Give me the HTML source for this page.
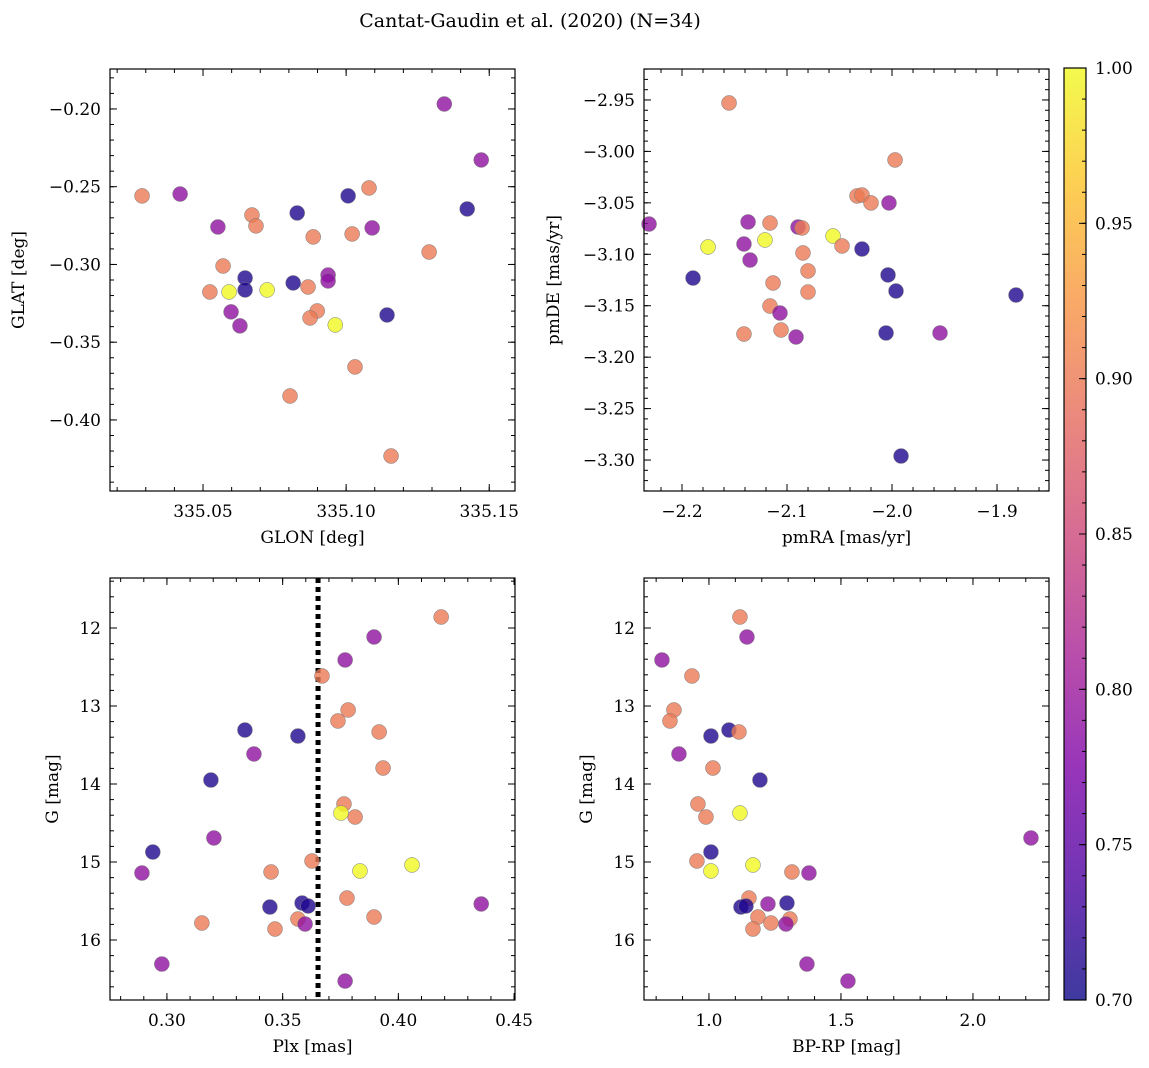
<!DOCTYPE html>
<html><head><meta charset="utf-8"><style>
html,body{margin:0;padding:0;background:#fff;}
svg{display:block;font-family:"DejaVu Serif","Liberation Serif",serif;}
</style></head><body>
<svg id="fig" width="1149" height="1068" viewBox="0 0 1149 1068" xmlns="http://www.w3.org/2000/svg">
<defs>
<linearGradient id="plasma" x1="0" y1="1" x2="0" y2="0">
<stop offset="0" stop-color="#0d0887"/><stop offset="0.125" stop-color="#4c02a1"/>
<stop offset="0.25" stop-color="#7e03a8"/><stop offset="0.375" stop-color="#a92395"/>
<stop offset="0.5" stop-color="#cc4778"/><stop offset="0.625" stop-color="#e56b5d"/>
<stop offset="0.75" stop-color="#f89441"/><stop offset="0.875" stop-color="#fdc328"/>
<stop offset="1" stop-color="#f0f921"/></linearGradient>
</defs>
<text x="530" y="27" font-size="19" text-anchor="middle">Cantat-Gaudin et al. (2020) (N=34)</text>
</svg>
<script>
// ---- data ----
const glon = [335.0287,335.0420,335.0552,335.0671,335.0685,335.0570,335.0524,335.0591,335.0647,335.0647,335.0724,335.0598,335.0629,335.0829,335.0815,335.0804,335.0885,335.0867,335.0899,335.0874,335.0937,335.0937,335.0962,335.1007,335.1021,335.1031,335.1080,335.1091,335.1143,335.1157,335.1290,335.1343,335.1423,335.1472];
const glat = [-0.2559,-0.2547,-0.2759,-0.2682,-0.2752,-0.3010,-0.3177,-0.3177,-0.3087,-0.3164,-0.3164,-0.3305,-0.3395,-0.2669,-0.3119,-0.3846,-0.2823,-0.3145,-0.3299,-0.3344,-0.3068,-0.3106,-0.3389,-0.2559,-0.2804,-0.3659,-0.2508,-0.2765,-0.3325,-0.4232,-0.2920,-0.1968,-0.2643,-0.2328];
const probA = [0.9,0.79,0.79,0.9,0.9,0.9,0.9,1.0,0.71,0.71,1.0,0.79,0.79,0.71,0.71,0.9,0.9,0.9,0.9,0.9,0.79,0.79,1.0,0.71,0.9,0.9,0.9,0.79,0.71,0.9,0.9,0.79,0.71,0.79];
const pmra = [-2.1552,-1.9971,-2.2314,-2.1895,-2.1752,-2.1371,-2.1352,-2.1410,-2.1210,-2.1162,-2.0895,-2.0857,-2.0562,-2.0476,-2.0333,-2.0286,-2.0200,-2.0029,-2.0286,-2.0848,-2.1133,-2.0800,-2.0800,-2.1162,-2.1067,-2.1057,-2.1410,-2.0914,-2.0038,-1.9962,-2.0057,-1.9543,-1.8819,-1.9914];
const pmde = [-2.9529,-3.0083,-3.0706,-3.1231,-3.0929,-3.0686,-3.1056,-3.0900,-3.0861,-3.0696,-3.0735,-3.0744,-3.0822,-3.0919,-3.0433,-3.0424,-3.0501,-3.0501,-3.0949,-3.0987,-3.1279,-3.1162,-3.1367,-3.1503,-3.1571,-3.1736,-3.1775,-3.1804,-3.1201,-3.1357,-3.1765,-3.1765,-3.1396,-3.2961];
const probB = [0.9,0.9,0.79,0.71,1.0,0.79,0.79,0.79,1.0,0.9,0.79,0.9,1.0,0.9,0.9,0.9,0.9,0.79,0.71,0.9,0.9,0.9,0.9,0.9,0.79,0.9,0.9,0.79,0.71,0.71,0.71,0.79,0.71,0.71];
const plx = [0.4185,0.3895,0.3770,0.3670,0.3783,0.3739,0.3337,0.3566,0.3917,0.3376,0.3934,0.3190,0.3765,0.3813,0.3752,0.3203,0.2939,0.3627,0.3450,0.3834,0.4059,0.2892,0.3778,0.3445,0.3584,0.3610,0.4358,0.3895,0.3566,0.3467,0.3597,0.3151,0.2978,0.3770];
const gC = [11.859,12.115,12.410,12.615,13.051,13.192,13.308,13.385,13.333,13.615,13.795,13.949,14.256,14.423,14.372,14.692,14.872,14.987,15.128,15.115,15.038,15.141,15.462,15.577,15.526,15.564,15.538,15.705,15.731,15.859,15.795,15.782,16.308,16.526];
const probC = [0.9,0.79,0.79,0.9,0.9,0.9,0.71,0.71,0.9,0.79,0.9,0.71,0.9,0.9,1.0,0.79,0.71,0.9,0.9,1.0,1.0,0.79,0.9,0.71,0.71,0.71,0.79,0.9,0.9,0.9,0.79,0.9,0.79,0.79];
const bprp = [1.1174,1.144,0.822,0.9356,0.8674,0.8523,1.0758,1.0076,1.1136,0.8864,1.0152,1.1932,0.9583,0.9886,1.1174,2.2197,1.0076,0.9545,1.3144,1.1667,1.0076,1.3788,1.1515,1.1212,1.1402,1.2955,1.2235,1.1856,1.3068,1.2348,1.2917,1.1667,1.3712,1.5265];
const gD = [11.859,12.115,12.410,12.615,13.051,13.192,13.308,13.385,13.333,13.615,13.795,13.949,14.256,14.423,14.372,14.692,14.872,14.987,15.128,15.038,15.115,15.141,15.462,15.577,15.564,15.526,15.538,15.705,15.731,15.782,15.795,15.859,16.308,16.526];
const probD = [0.9,0.79,0.79,0.9,0.9,0.9,0.71,0.71,0.9,0.79,0.9,0.71,0.9,0.9,1.0,0.79,0.71,0.9,0.9,1.0,1.0,0.79,0.9,0.71,0.71,0.71,0.79,0.9,0.9,0.9,0.79,0.9,0.79,0.79];
const plxCut = 0.3653;
const cbTicks = [0.70,0.75,0.80,0.85,0.90,0.95,1.00];

const NS='http://www.w3.org/2000/svg';
const svg=document.getElementById('fig');
function el(tag,attrs,parent){const e=document.createElementNS(NS,tag);for(const k in attrs)e.setAttribute(k,attrs[k]);(parent||svg).appendChild(e);return e;}
const stops=[[13,8,135],[76,2,161],[126,3,168],[169,35,149],[204,71,120],[229,107,93],[248,148,65],[253,195,40],[240,249,33]];
function plasma(p){let t=Math.max(0,Math.min(1,(p-0.7)/0.3))*8;let i=Math.min(7,Math.floor(t));let f=t-i;const a=stops[i],b=stops[i+1];
 return 'rgb('+a.map((v,k)=>Math.round(v+(b[k]-v)*f)).join(',')+')';}
function fmt(v,d){return (v<-1e-9?'\u2212':'')+Math.abs(v).toFixed(d);}

function panel(cfg){
 const g=el('g',{});
 
 
 const X=v=>cfg.x0+(v-cfg.xmin)/(cfg.xmax-cfg.xmin)*(cfg.x1-cfg.x0);
 const Y=v=>cfg.inv? cfg.y0+(v-cfg.ymin)/(cfg.ymax-cfg.ymin)*(cfg.y1-cfg.y0) : cfg.y1-(v-cfg.ymin)/(cfg.ymax-cfg.ymin)*(cfg.y1-cfg.y0);
 const tk=el('g',{stroke:'#000','stroke-width':1},g);
 function ticks(step,len,isX,labels,dec){
  const lo=isX?cfg.xmin:cfg.ymin,hi=isX?cfg.xmax:cfg.ymax;
  const k0=Math.ceil(lo/step-1e-6),k1=Math.floor(hi/step+1e-6);
  for(let k=k0;k<=k1;k++){const v=k*step;
   if(isX){const p=X(v);el('line',{x1:p,x2:p,y1:cfg.y1,y2:cfg.y1-len},tk);el('line',{x1:p,x2:p,y1:cfg.y0,y2:cfg.y0+len},tk);
     if(labels){const t=el('text',{x:p,y:cfg.y1+26,'font-size':17,'text-anchor':'middle',stroke:'none'},g);t.textContent=fmt(v,dec);}}
   else{const p=Y(v);el('line',{y1:p,y2:p,x1:cfg.x0,x2:cfg.x0+len},tk);el('line',{y1:p,y2:p,x1:cfg.x1,x2:cfg.x1-len},tk);
     if(labels){const t=el('text',{x:cfg.x0-9,y:p+6,'font-size':17,'text-anchor':'end',stroke:'none'},g);t.textContent=fmt(v,dec);}}
  }
 }
 ticks(cfg.xmaj,7,true,true,cfg.xd);ticks(cfg.xmin_,4,true,false);
 ticks(cfg.ymaj,7,false,true,cfg.yd);ticks(cfg.ymin_,4,false,false);
 if(cfg.vline!==undefined){const l=el('line',{x1:X(cfg.vline),x2:X(cfg.vline),y1:cfg.y0,y2:cfg.y1,stroke:'#000','stroke-width':5,'stroke-dasharray':'5,4'},g);
  }
 for(let i=0;i<cfg.xs.length;i++){
  const c=el('circle',{cx:X(cfg.xs[i]),cy:Y(cfg.ys[i]),r:7.5,fill:plasma(cfg.ps[i]),'fill-opacity':0.8,stroke:'#777','stroke-width':0.5},g);
  
  
 }
 const fr=el('rect',{x:cfg.x0,y:cfg.y0,width:cfg.x1-cfg.x0,height:cfg.y1-cfg.y0,fill:'none',stroke:'#000','stroke-width':1.2},g);
 
 const xl=el('text',{x:(cfg.x0+cfg.x1)/2,y:cfg.y1+52,'font-size':17,'text-anchor':'middle'},g);xl.textContent=cfg.xlab;
 
 const yx=cfg.ylx,yy=(cfg.y0+cfg.y1)/2;
 const yl=el('text',{x:yx,y:yy,'font-size':17,'text-anchor':'middle',transform:'rotate(-90 '+yx+' '+yy+')'},g);yl.textContent=cfg.ylab;
 
}
panel({name:'glon-glat-panel',x0:110,x1:515,y0:69,y1:491,xmin:335.0175,xmax:335.159,ymin:-0.4457,ymax:-0.1743,xmaj:0.05,xmin_:0.01,ymaj:0.05,ymin_:0.01,xd:2,yd:2,xs:glon,ys:glat,ps:probA,xlab:'GLON [deg]',ylab:'GLAT [deg]',ylx:24});
panel({name:'pm-panel',x0:644,x1:1049,y0:69,y1:491,xmin:-2.2362,xmax:-1.8505,ymin:-3.3301,ymax:-2.9199,xmaj:0.1,xmin_:0.02,ymaj:0.05,ymin_:0.01,xd:1,yd:2,xs:pmra,ys:pmde,ps:probB,xlab:'pmRA [mas/yr]',ylab:'pmDE [mas/yr]',ylx:559});
panel({name:'plx-g-panel',x0:110,x1:515,y0:578,y1:1000,xmin:0.2754,xmax:0.4504,ymin:11.359,ymax:16.769,inv:true,xmaj:0.05,xmin_:0.01,ymaj:1,ymin_:0.2,xd:2,yd:0,xs:plx,ys:gC,ps:probC,xlab:'Plx [mas]',ylab:'G [mag]',ylx:58,vline:plxCut});
panel({name:'cmd-panel',x0:644,x1:1049,y0:578,y1:1000,xmin:0.754,xmax:2.288,ymin:11.359,ymax:16.769,inv:true,xmaj:0.5,xmin_:0.1,ymaj:1,ymin_:0.2,xd:1,yd:0,xs:bprp,ys:gD,ps:probD,xlab:'BP-RP [mag]',ylab:'G [mag]',ylx:592});
// colorbar
const cb=el('g',{});


el('rect',{x:1064,y:68,width:22,height:932,fill:'url(#plasma)','fill-opacity':0.8},cb);
el('rect',{x:1064,y:68,width:22,height:932,fill:'none',stroke:'#000','stroke-width':1.2},cb);
const CY=v=>1000-(v-0.7)/0.3*932;
for(let k=70;k<=100;k++){const v=k/100;el('line',{x1:1086,x2:1082,y1:CY(v),y2:CY(v),stroke:'#000'},cb);}
for(const v of cbTicks){el('line',{x1:1086,x2:1079,y1:CY(v),y2:CY(v),stroke:'#000'},cb);
 const t=el('text',{x:1095,y:CY(v)+6,'font-size':17},cb);t.textContent=v.toFixed(2);
 }
</script>
</body></html>
